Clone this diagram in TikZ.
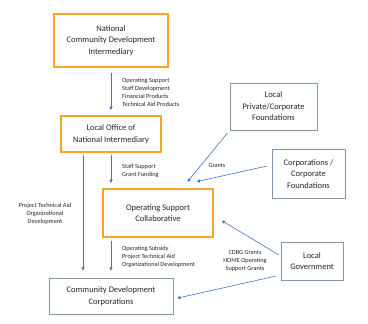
\documentclass[tikz,border=0pt]{standalone}
\usepackage{fontspec}
\setmainfont{Carlito}
\usetikzlibrary{
  arrows.meta
}
\definecolor{boxorange}{RGB}{245,166,35}
\definecolor{flowblue}{RGB}{68,114,196}
\definecolor{boxgray}{RGB}{132,151,176}
\definecolor{textgray}{RGB}{38,38,38}
\tikzset{
  % For the intermediaries, framed in orange.
  main box/.style={
    draw=boxorange,
    line width=2.2pt,
    fill=white,
    text=textgray,
    align=center,
    inner sep=0pt,
    font=\fontsize{8.5}{11.5}\selectfont},
%
  % For the other actors.
  side box/.style={
    draw=boxgray,
    line width=0.8pt,
    fill=white,
    text=textgray,
    align=center,
    inner sep=0pt,
    font=\fontsize{8.5}{11.5}\selectfont},
%
  % For money and support flows.
  flow/.style={
    draw=flowblue,
    line width=0.6pt,
    -{Triangle[width=3.2pt,length=3.2pt]}},
%
  % For the texts along the flows.
  flow label/.style={
    text=textgray,
    inner sep=0pt,
    font=\fontsize{6.3}{8}\selectfont}
}

\begin{document}
\begin{tikzpicture}[x=1pt,y=-1pt]
  \useasboundingbox (0,0) rectangle (368,324);

  % Intermediaries
  \node[main box, minimum width=114pt, minimum height=53pt] (ncdi) at (111,40.5)
    {National\\Community Development\\Intermediary};
  \node[main box, minimum width=100pt, minimum height=36pt] (office) at (111,134)
    {Local Office of\\National Intermediary};
  \node[main box, minimum width=110pt, minimum height=48pt] (osc) at (158,213)
    {Operating Support\\Collaborative};

  % Funders and receivers
  \node[side box, minimum width=124pt, minimum height=36pt] (cdc) at (111,296)
    {Community Development\\Corporations};
  \node[side box, minimum width=87pt, minimum height=47pt] (lpf) at (273.5,106.5)
    {Local\\Private/Corporate\\Foundations};
  \node[side box, minimum width=73pt, minimum height=49pt] (corp) at (308.5,174)
    {Corporations /\\Corporate\\Foundations};
  \node[side box, minimum width=62pt, minimum height=38pt] (gov) at (312,261)
    {Local\\Government};

  % Flows down the chain
  \draw[flow, shorten <=5pt, shorten >=5pt] (ncdi) -- (office);
  \draw[flow, shorten <=2pt, shorten >=5pt]
    (office.south) -- (office.south |- osc.north);
  \draw[flow, shorten <=2pt, shorten >=7pt]
    ([xshift=-28pt]office.south) -- ([xshift=-28pt]office.south |- cdc.north);
  \draw[flow, shorten <=3pt, shorten >=7pt]
    (osc.south -| office.south) -- (cdc.north -| office.south);

  % Flows from the local funders
  \draw[flow, shorten <=3pt, shorten >=8pt]
    (lpf.south west) -- ([xshift=24.5pt]osc.north);
  \draw[flow, shorten <=5pt, shorten >=29pt]
    ([yshift=9pt]corp.west) -- ([xshift=10.5pt]osc.north);
  \draw[flow, shorten <=2pt, shorten >=9pt]
    ([yshift=5pt]gov.west) -- ([yshift=-3pt]osc.east);
  \draw[flow, shorten <=5pt, shorten >=4pt]
    ([yshift=-14pt]gov.west) -- ([yshift=-3pt]cdc.east);

  % Labels
  \node[flow label, anchor=west, align=left] (ncdiflow) at (122,92)
    {Operating Support\\Staff Development\\Financial Products\\Technical Aid Products};
  \node[flow label, anchor=west, align=left] (officeflow) at (122,170.5)
    {Staff Support\\Grant Funding};
  \node[flow label, align=center] (officecdcflow) at (45,214)
    {Project Technical Aid\\Organizational\\Development};
  \node[flow label, anchor=west, align=left] (oscflow) at (122,257)
    {Operating Subsidy\\Project Technical Aid\\Organizational Development};
  \node[flow label] (grants) at (217,165) {Grants};
  \node[flow label, align=center] (govflow) at (245,261)
    {CDBG Grants\\HOME Operating\\Support Grants};
\end{tikzpicture}
\end{document}
